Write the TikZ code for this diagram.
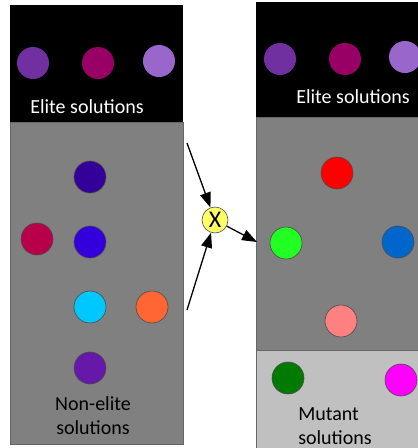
\documentclass[tikz,border=0pt]{standalone}
\usepackage{fontspec}
\setmainfont{Carlito}
\usetikzlibrary{arrows.meta}
\definecolor{panelgray}{HTML}{808080}
\definecolor{lightpanel}{HTML}{C0C0C0}
\definecolor{eliteA}{HTML}{7030A0}
\definecolor{eliteB}{HTML}{990066}
\definecolor{eliteC}{HTML}{9966CC}
\definecolor{neA}{HTML}{330099}
\definecolor{neB}{HTML}{B8004A}
\definecolor{neC}{HTML}{3300DD}
\definecolor{neD}{HTML}{00C8FF}
\definecolor{neE}{HTML}{FF6633}
\definecolor{neF}{HTML}{6618A8}
\definecolor{rA}{HTML}{FF0000}
\definecolor{rB}{HTML}{22FF22}
\definecolor{rC}{HTML}{0066CC}
\definecolor{rD}{HTML}{FF8080}
\definecolor{rE}{HTML}{007A00}
\definecolor{rF}{HTML}{FF00FF}
\definecolor{xfill}{HTML}{FFFF66}
\tikzset{
  elitedot/.style={circle, minimum size=32pt, inner sep=0pt},
  soldot/.style={circle, minimum size=32pt, inner sep=0pt, draw=black!70, line width=0.6pt},
  panel/.style={draw=black!60, line width=0.8pt},
  lbl/.style={font=\fontsize{20}{24}\selectfont, align=center},
  flow/.style={-{Triangle[length=15pt,width=11pt]}, line width=1.3pt}
}
\begin{document}
\begin{tikzpicture}[x=1pt,y=-1pt]
\useasboundingbox (0,0) rectangle (418,448);
% left panel
\fill[black] (10,5) rectangle (183,122);
\filldraw[panel, fill=panelgray] (10,122) rectangle (183,444);
\node[elitedot, fill=eliteA] (le1) at (33,63) {};
\node[elitedot, fill=eliteB] (le2) at (98,63) {};
\node[elitedot, fill=eliteC] (le3) at (159,61) {};
\node[lbl, text=white] (lelite) at (87,107) {Elite solutions};
\node[soldot, fill=neA] (ln1) at (90,177) {};
\node[soldot, fill=neB] (ln2) at (37,239) {};
\node[soldot, fill=neC] (ln3) at (90,242) {};
\node[soldot, fill=neD] (ln4) at (90,307) {};
\node[soldot, fill=neE] (ln5) at (152,307) {};
\node[soldot, fill=neF] (ln6) at (90,368) {};
\node[lbl, text=black] (lnon) at (93,416) {Non-elite\\solutions};
% right panel
\fill[black] (256,2) rectangle (418,117);
\filldraw[panel, fill=panelgray] (256,117) rectangle (420,350);
\filldraw[panel, fill=lightpanel] (256,350) rectangle (420,450);
\node[elitedot, fill=eliteA] (re1) at (280,59) {};
\node[elitedot, fill=eliteB] (re2) at (345,59) {};
\node[elitedot, fill=eliteC] (re3) at (405,57) {};
\node[lbl, text=white] (relite) at (353,97) {Elite solutions};
\node[soldot, fill=rA] (rs1) at (337,173) {};
\node[soldot, fill=rB] (rs2) at (286,243) {};
\node[soldot, fill=rC] (rs3) at (398,242) {};
\node[soldot, fill=rD] (rs4) at (341,321) {};
\node[soldot, fill=rE] (rm1) at (288,378) {};
\node[soldot, fill=rF] (rm2) at (401,380) {};
\node[lbl, text=black, align=left] (rmut) at (335,426) {Mutant\\solutions};
% crossover
\node[circle, draw=black!70, fill=xfill, minimum size=26pt, inner sep=0pt, line width=0.6pt, font=\fontsize{24}{24}\selectfont] (cx) at (215,220) {X};
\coordinate (s1) at (187,143);
\coordinate (s2) at (187,310);
\coordinate (t3) at (257,242);
\draw[flow] (s1) -- (cx);
\draw[flow] (s2) -- (cx);
\draw[flow] (cx) -- (t3);
\end{tikzpicture}
\end{document}
